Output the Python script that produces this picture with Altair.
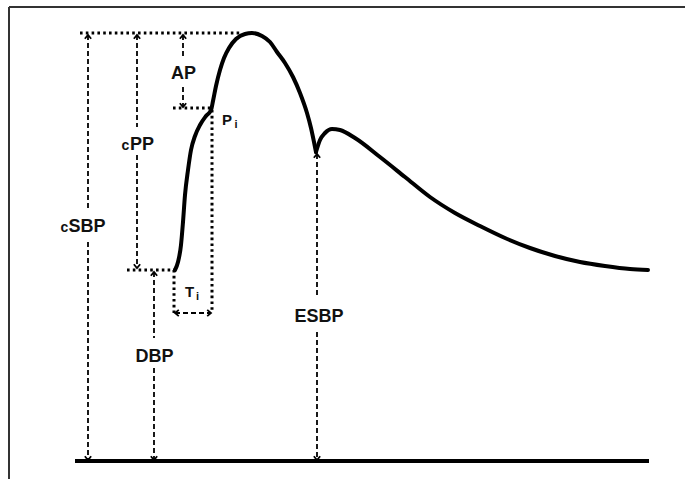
import altair as alt
import pandas as pd

W, H = 685, 479

# Pressure waveform (diagram units: x = time, y = distance from top)
sys_x = [175, 178, 181, 183, 185, 188, 191, 195, 200, 206, 211, 213, 216, 220, 224, 229, 236, 245, 252, 262, 270, 277, 285, 293, 300, 307, 311, 314, 316]
sys_y = [270, 262, 245, 222, 195, 170, 150, 136, 125, 116, 110, 101, 86, 70, 58, 48, 39, 34, 33, 36, 42, 52, 63, 77, 93, 113, 128, 142, 152]
dia_x = [316, 320, 325, 332, 340, 355, 380, 405, 430, 455, 480, 505, 530, 555, 580, 605, 630, 648]
dia_y = [152, 140, 133, 129, 130, 138, 157, 177, 197, 213, 226, 238, 248, 256, 262, 266, 269, 270]

# Vertical measurement arrows (dashed) with label gaps
arr_name = ["cSBP", "cPP", "AP", "DBP", "ESBP"]
arr_x = [88, 137, 183, 154, 317]
arr_top = [35, 35, 35, 272, 154]
arr_bot = [460, 268, 107, 460, 460]
gap_top = [210, 127, 58, 338, 298]
gap_bot = [242, 155, 87, 368, 332]

# Dotted guide lines: (x1, y1, x2, y2)
dot_x1 = [80, 173, 127, 174, 212]
dot_y1 = [33, 108, 270, 270, 110]
dot_x2 = [240, 212, 175, 174, 212]
dot_y2 = [33, 108, 270, 313, 313]

# Ti horizontal arrow
ti_x1, ti_x2, ti_y = 175, 211, 313

# Baseline
base_x1, base_x2, base_y = 75, 649, 461

# Labels
lab_text = ["SBP", "c", "PP", "c", "AP", "P", "i", "T", "i", "DBP", "ESBP"]
lab_x = [87, 64.5, 142, 125.5, 183.5, 227, 236, 189.5, 197.5, 154.5, 319]
lab_y = [232, 232, 150, 150, 79, 125, 128, 297, 300, 362, 322]
lab_size = [18, 14, 18, 14, 18, 15, 11, 15, 11, 18, 18]

xs = alt.Scale(domain=[0, W], nice=False, zero=False)
ys = alt.Scale(domain=[0, H], nice=False, zero=False, reverse=True)
X = lambda f: alt.X(f, type="quantitative", scale=xs, axis=None)
Y = lambda f: alt.Y(f, type="quantitative", scale=ys, axis=None)

wave = pd.DataFrame(
    [{"x": a, "y": b, "seg": "sys", "o": i} for i, (a, b) in enumerate(zip(sys_x, sys_y))]
    + [{"x": a, "y": b, "seg": "dia", "o": i} for i, (a, b) in enumerate(zip(dia_x, dia_y))]
)

dash_rows = []
head_rows = []
for n, x, t, b, g1, g2 in zip(arr_name, arr_x, arr_top, arr_bot, gap_top, gap_bot):
    dash_rows.append({"x": x, "x2": x, "y": t, "y2": g1})
    dash_rows.append({"x": x, "x2": x, "y": g2, "y2": b})
    head_rows.append({"x": x, "y": t, "dir": "up"})
    head_rows.append({"x": x, "y": b, "dir": "down"})
dash_rows.append({"x": ti_x1, "x2": ti_x2, "y": ti_y, "y2": ti_y})
head_rows.append({"x": ti_x1, "y": ti_y, "dir": "left"})
head_rows.append({"x": ti_x2, "y": ti_y, "dir": "right"})
dash_df = pd.DataFrame(dash_rows)
head_df = pd.DataFrame(head_rows)

dot_df = pd.DataFrame({"x": dot_x1, "y": dot_y1, "x2": dot_x2, "y2": dot_y2})
base_df = pd.DataFrame({"x": [base_x1], "x2": [base_x2], "y": [base_y], "y2": [base_y]})
frame_df = pd.DataFrame({"x": [9, 9], "x2": [W, 9], "y": [7, 7], "y2": [7, H]})
lab_df = pd.DataFrame({"t": lab_text, "x": lab_x, "y": lab_y, "s": lab_size})

frame = alt.Chart(frame_df).mark_rule(color="#333333", strokeWidth=2).encode(
    x=X("x"), x2="x2", y=Y("y"), y2="y2")

base = alt.Chart(base_df).mark_rule(color="black", strokeWidth=4).encode(
    x=X("x"), x2="x2", y=Y("y"), y2="y2")

dots = alt.Chart(dot_df).mark_rule(color="black", strokeWidth=3, strokeDash=[2.6, 3.2]).encode(
    x=X("x"), x2="x2", y=Y("y"), y2="y2")

dashes = alt.Chart(dash_df).mark_rule(color="black", strokeWidth=1.8, strokeDash=[5, 3]).encode(
    x=X("x"), x2="x2", y=Y("y"), y2="y2")

shapes = {
    "up": "M-1,1.2L0,0L1,1.2",
    "down": "M-1,-1.2L0,0L1,-1.2",
    "left": "M1.2,-1L0,0L1.2,1",
    "right": "M-1.2,-1L0,0L-1.2,1",
}
heads = []
for d, p in shapes.items():
    heads.append(
        alt.Chart(head_df).transform_filter(alt.datum.dir == d)
        .mark_point(shape=p, filled=False, color="black", strokeWidth=1.8, size=40, opacity=1)
        .encode(x=X("x"), y=Y("y"))
    )

line = alt.Chart(wave).mark_line(color="black", strokeWidth=4, interpolate="monotone",
                                  strokeCap="round", strokeJoin="round").encode(
    x=X("x"), y=Y("y"), detail="seg:N", order="o:Q")

labels = alt.Chart(lab_df).mark_text(font="Liberation Sans", fontWeight="bold", color="#111111",
                                     align="center", baseline="alphabetic").encode(
    x=X("x"), y=Y("y"), text="t:N", size=alt.Size("s:Q", scale=None, legend=None))

chart = alt.layer(frame, base, dots, dashes, *heads, line, labels).properties(
    width=W, height=H, autosize="none", padding=0
).configure_view(strokeWidth=0)

chart.save("out.html", embed_options={"renderer": "svg", "actions": False})
